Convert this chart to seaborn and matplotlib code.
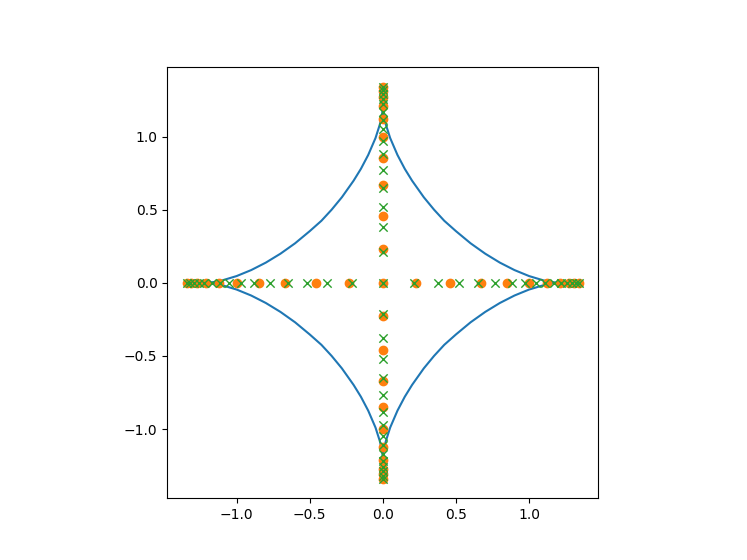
import numpy as np
import matplotlib
matplotlib.use("Agg")
import matplotlib.pyplot as plt
import seaborn as sns

# Curve: one quarter arc (first quadrant), mirrored to the others
arc_x = [1.20, 1.15, 1.10, 1.00, 0.90, 0.80, 0.70, 0.60, 0.50, 0.42, 0.35, 0.28,
         0.20, 0.15, 0.10, 0.05, 0.02, 0.005, 0.0]
arc_y = [0.0, 0.006, 0.016, 0.046, 0.087, 0.138, 0.199, 0.270, 0.353, 0.424, 0.50,
         0.585, 0.698, 0.779, 0.874, 0.990, 1.084, 1.154, 1.20]

# Points along the axes (positive offsets, used on both axes and both signs)
circle_vals = [0.23, 0.46, 0.67, 0.85, 1.00, 1.12, 1.21, 1.27, 1.31, 1.34]
cross_vals = [0.21, 0.38, 0.52, 0.65, 0.77, 0.88, 0.97, 1.05, 1.11, 1.17,
              1.22, 1.26, 1.29, 1.32, 1.34]


def axis_points(vals):
    v = np.array(vals)
    z = np.zeros_like(v)
    xs = np.concatenate([[0.0], v, -v, z, z])
    ys = np.concatenate([[0.0], z, z, v, -v])
    return xs, ys


ax_arr = np.array(arc_x)
ay_arr = np.array(arc_y)
curve_x = np.concatenate([ax_arr, -ax_arr[::-1], -ax_arr, ax_arr[::-1]])
curve_y = np.concatenate([ay_arr, ay_arr[::-1], -ay_arr, -ay_arr[::-1]])

cx, cy = axis_points(circle_vals)
kx, ky = axis_points(cross_vals)

palette = sns.color_palette("tab10")

fig, ax = plt.subplots(figsize=(7.47, 5.6), dpi=100)
sns.lineplot(x=curve_x, y=curve_y, sort=False, estimator=None,
             color=palette[0], linewidth=1.5, ax=ax)
sns.scatterplot(x=cx, y=cy, color=palette[1], marker="o", s=36,
                edgecolor=palette[1], linewidth=1.0, zorder=3, ax=ax)
sns.scatterplot(x=kx, y=ky, color=palette[2], marker="x", s=36,
                linewidth=1.0, zorder=4, ax=ax)

ax.set_xticks([-1.0, -0.5, 0.0, 0.5, 1.0])
ax.set_yticks([-1.0, -0.5, 0.0, 0.5, 1.0])
ax.set_xlim(-1.474, 1.474)
ax.set_ylim(-1.474, 1.474)
ax.set_aspect("equal")

plt.savefig("out.png", dpi=100)
plt.close()
